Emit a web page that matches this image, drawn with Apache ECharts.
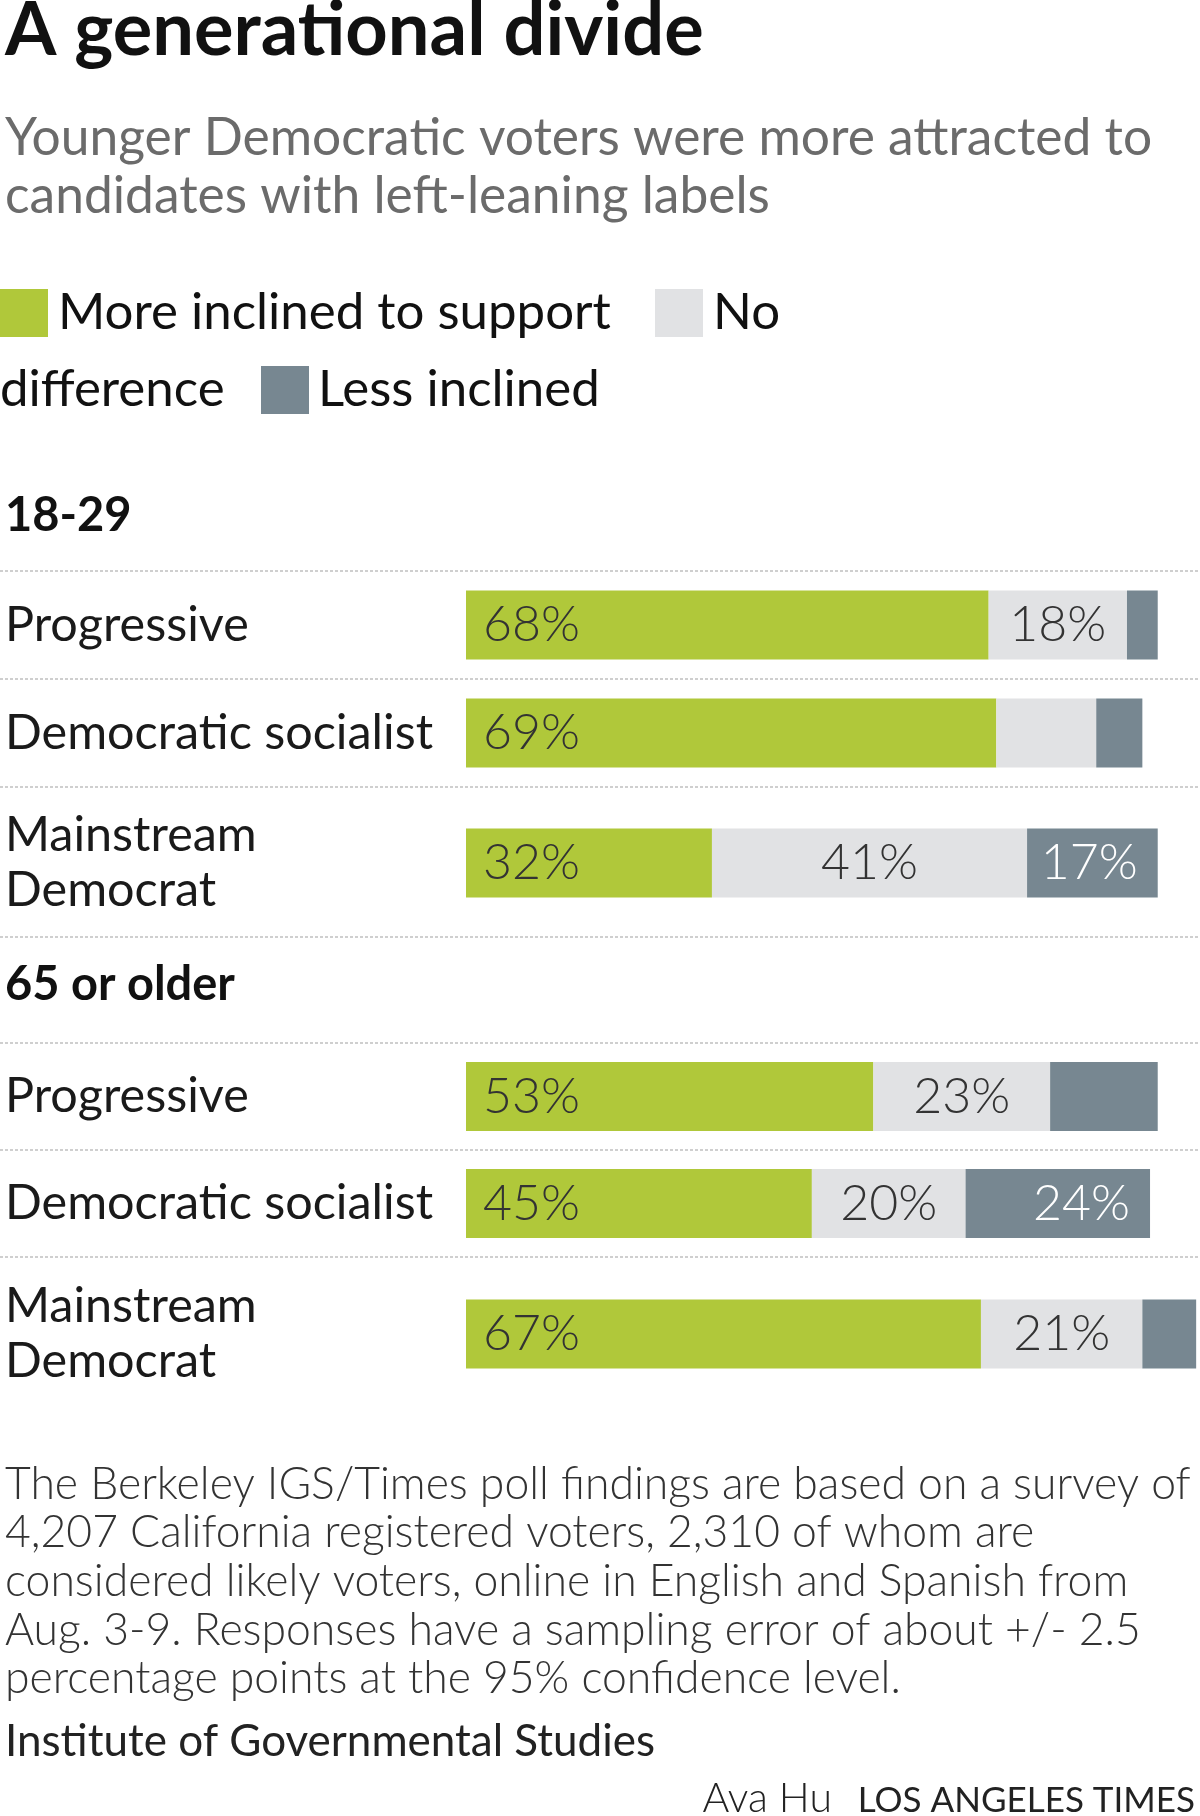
<!DOCTYPE html>
<html>
<head>
<meta charset="utf-8">
<script src="https://cdn.jsdelivr.net/npm/echarts@6/dist/echarts.min.js"></script>
<style>
html,body{margin:0;padding:0;background:#fff;}
#chart{width:1200px;height:1816px;}
</style>
</head>
<body>
<div id="chart"></div>
<script>
// ---- data ----
const groups = ['18-29', '65 or older'];
const categories = ['Progressive', 'Democratic socialist', 'Mainstream\nDemocrat'];
const seriesNames = ['More inclined to support', 'No difference', 'Less inclined'];
const more18 = [68, 69, 32];
const none18 = [18, 13, 41];
const less18 = [4, 6, 17];
const more65 = [53, 45, 67];
const none65 = [23, 20, 21];
const less65 = [14, 24, 7];
const labelMin = 15;
const axisMax = 95.5;

// ---- layout / style ----
const FONT = 'Lato, "Noto Sans", sans-serif';
const colors = ['#b0c83a', '#e1e2e4', '#778791'];
const rowTops = [571, 679, 787, 1043, 1150, 1257];
const rowHeights = [108, 108, 152, 107, 107, 154];
const dottedY = [571, 679, 787, 937, 1043, 1150, 1257];
const gridLeft = 466;

const groupValues = [[more18, none18, less18], [more65, none65, less65]];

const grids = [], xAxes = [], yAxes = [], series = [];
for (let g = 0; g < 2; g++) {
  for (let c = 0; c < 3; c++) {
    const k = g * 3 + c;
    grids.push({ left: gridLeft, right: 0, top: rowTops[k], height: rowHeights[k], containLabel: false });
    xAxes.push({ gridIndex: k, type: 'value', min: 0, max: axisMax, show: false });
    yAxes.push({
      gridIndex: k, type: 'category', data: [categories[c]],
      axisLine: { show: false }, axisTick: { show: false }, splitLine: { show: false },
      axisLabel: { margin: gridLeft - 5, align: 'left', fontFamily: FONT, fontSize: 48.5, lineHeight: 55, color: '#1a1a1a' }
    });
    for (let s = 0; s < 3; s++) {
      const v = groupValues[g][s][c];
      const lbl = s === 0 ? { position: 'insideLeft', distance: 17, color: '#333' }
                : s === 1 ? { position: 'inside', color: '#333' }
                : { position: 'insideRight', distance: 20, color: '#fff' };
      series.push({
        type: 'bar', name: seriesNames[s], xAxisIndex: k, yAxisIndex: k, stack: 'row' + k,
        barWidth: 69, itemStyle: { color: colors[s] },
        label: Object.assign({ show: v >= labelMin, formatter: '{c}%', fontFamily: FONT, fontSize: 50, fontWeight: 300 }, lbl),
        emphasis: { disabled: true },
        data: [v]
      });
    }
  }
}

const graphics = [];
dottedY.forEach(y => graphics.push({
  type: 'line', shape: { x1: 0, y1: y, x2: 1200, y2: y },
  style: { stroke: '#cfcfcf', lineWidth: 2, lineDash: [3, 2] }, silent: true
}));
// legend (wrapped like the reference)
const legendItems = [
  { sq: [0, 289], text: 'More inclined to support', tx: 58, ty: 313, color: colors[0] },
  { sq: [655, 289], text: 'No', tx: 713, ty: 313, color: colors[1] },
  { sq: null, text: 'difference', tx: 0, ty: 390 },
  { sq: [261, 366], text: 'Less inclined', tx: 318, ty: 390, color: colors[2] }
];
legendItems.forEach(it => {
  if (it.sq) graphics.push({ type: 'rect', shape: { x: it.sq[0], y: it.sq[1], width: 48, height: 48 }, style: { fill: it.color } });
  graphics.push({ type: 'text', x: it.tx, y: it.ty, style: { text: it.text, font: '51px ' + FONT, fill: '#111', verticalAlign: 'middle', align: 'left' } });
});

const option = {
  backgroundColor: '#fff',
  animation: false,
  title: [
    { text: 'A generational divide', left: 0, top: -13, textStyle: { fontFamily: FONT, fontSize: 74, fontWeight: 'bold', color: '#111', lineHeight: 78 } },
    { text: 'Younger Democratic voters were more attracted to\ncandidates with left-leaning labels', left: 0, top: 104,
      textStyle: { fontFamily: FONT, fontSize: 51.5, fontWeight: 'normal', color: '#6b6b6b', lineHeight: 58 } },
    { text: groups[0], left: 0, top: 487, textStyle: { fontFamily: FONT, fontSize: 47, fontWeight: 'bold', color: '#111' } },
    { text: groups[1], left: 0, top: 956, textStyle: { fontFamily: FONT, fontSize: 47, fontWeight: 'bold', color: '#111' } },
    { text: 'The Berkeley IGS/Times poll findings are based on a survey of\n4,207 California registered voters, 2,310 of whom are\nconsidered likely voters, online in English and Spanish from\nAug. 3-9. Responses have a sampling error of about +/- 2.5\npercentage points at the 95% confidence level.',
      left: 0, top: 1455, textStyle: { fontFamily: FONT, fontSize: 44.5, fontWeight: 300, color: '#333', lineHeight: 48.7 } },
    { text: 'Institute of Governmental Studies', left: 0, top: 1715, textStyle: { fontFamily: FONT, fontSize: 44, fontWeight: 'normal', color: '#222' } },
    { text: 'LOS ANGELES TIMES', right: 0, top: 1778, textStyle: { fontFamily: FONT, fontSize: 35, fontWeight: 'normal', color: '#222' } },
    { text: 'Ava Hu', right: 363, top: 1773, textStyle: { fontFamily: FONT, fontSize: 41, fontWeight: 300, color: '#222' } }
  ],
  grid: grids,
  xAxis: xAxes,
  yAxis: yAxes,
  series: series,
  graphic: graphics
};

const chart = echarts.init(document.getElementById('chart'), null, { renderer: 'canvas' });
chart.setOption(option);
</script>
</body>
</html>
